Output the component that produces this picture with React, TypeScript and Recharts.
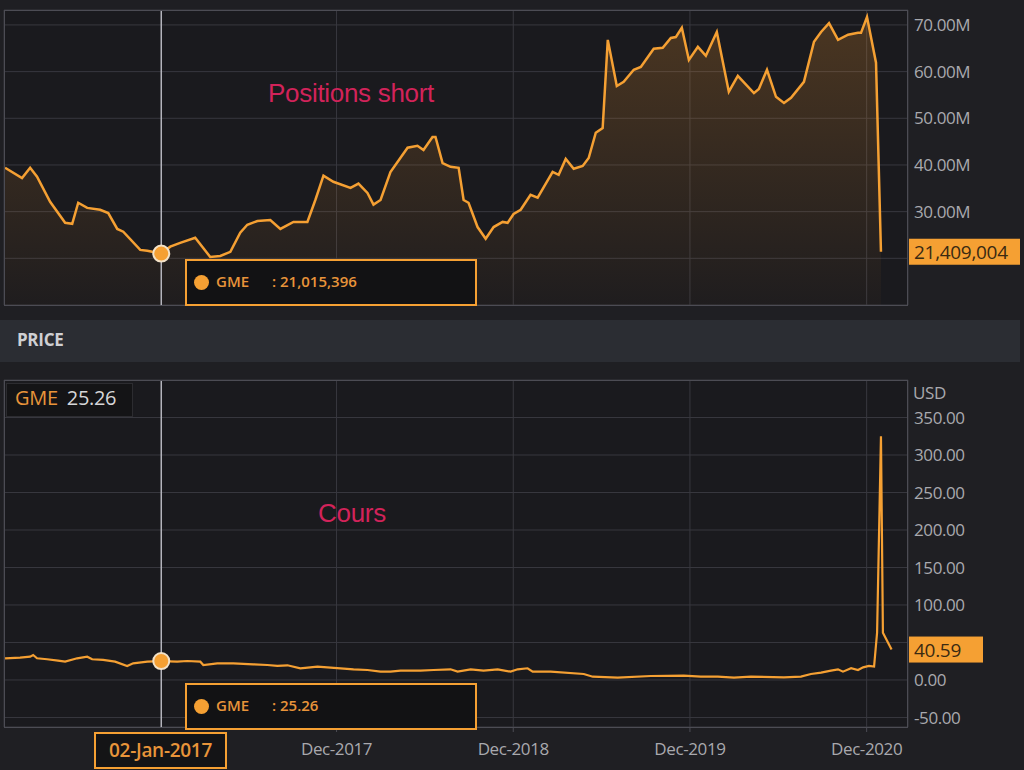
import React from 'react';
import {
  ComposedChart, Area, Line, XAxis, YAxis, CartesianGrid, ReferenceLine, ReferenceDot,
} from 'recharts';

// Dates as decimal years
const shortDates = [
  2016.119, 2016.215, 2016.261, 2016.300, 2016.374, 2016.459, 2016.499, 2016.533, 2016.584, 2016.657,
  2016.703, 2016.754, 2016.788, 2016.884, 2016.924, 2017.003, 2017.054, 2017.110, 2017.195, 2017.280,
  2017.337, 2017.394, 2017.450, 2017.490, 2017.547, 2017.620, 2017.677, 2017.751, 2017.830, 2017.875,
  2017.921, 2017.977, 2018.074, 2018.119, 2018.170, 2018.204, 2018.244, 2018.300, 2018.397, 2018.453,
  2018.487, 2018.538, 2018.555, 2018.595, 2018.640, 2018.686, 2018.714, 2018.742, 2018.793, 2018.839,
  2018.884, 2018.935, 2018.963, 2018.997, 2019.037, 2019.093, 2019.133, 2019.218, 2019.252, 2019.292,
  2019.337, 2019.388, 2019.422, 2019.462, 2019.501, 2019.530, 2019.581, 2019.620, 2019.677, 2019.717,
  2019.790, 2019.841, 2019.887, 2019.915, 2019.949, 2019.989, 2020.040, 2020.085, 2020.147, 2020.215,
  2020.266, 2020.357, 2020.385, 2020.431, 2020.482, 2020.527, 2020.567, 2020.640, 2020.697, 2020.737,
  2020.782, 2020.833, 2020.890, 2020.946, 2020.963, 2020.997, 2021.048, 2021.076,
];
// short positions, millions of shares
const shortValues = [
  39.4, 37.2, 39.4, 37.5, 32.1, 27.6, 27.4, 31.9, 30.8, 30.4,
  29.7, 26.3, 25.7, 21.8, 21.6, 21.015, 22.5, 23.3, 24.4, 20.3,
  20.5, 21.4, 25.5, 27.2, 28.0, 28.2, 26.3, 27.8, 27.8, 32.5,
  37.7, 36.4, 35.1, 36.0, 34.0, 31.5, 32.5, 38.5, 43.7, 44.1,
  43.2, 46.0, 46.0, 40.4, 39.6, 39.4, 32.5, 31.9, 26.7, 24.2,
  26.7, 27.8, 27.6, 29.5, 30.4, 33.6, 33.0, 38.5, 37.9, 41.3,
  39.2, 39.8, 41.5, 46.9, 47.9, 66.8, 56.9, 57.8, 60.4, 61.0,
  64.9, 65.1, 67.2, 67.4, 69.4, 62.5, 65.3, 63.4, 68.5, 55.7,
  59.1, 55.4, 56.3, 60.4, 54.6, 53.3, 54.4, 57.8, 66.4, 68.5,
  70.4, 66.8, 67.9, 68.3, 68.3, 71.7, 61.9, 21.409,
];

const priceDates = [
  2016.119, 2016.204, 2016.261, 2016.278, 2016.300, 2016.357, 2016.419, 2016.459, 2016.527, 2016.584,
  2016.612, 2016.674, 2016.742, 2016.810, 2016.844, 2016.924, 2017.003, 2017.093, 2017.150, 2017.224,
  2017.241, 2017.320, 2017.411, 2017.524, 2017.603, 2017.660, 2017.717, 2017.790, 2017.887, 2017.943,
  2018.017, 2018.091, 2018.170, 2018.244, 2018.300, 2018.357, 2018.470, 2018.544, 2018.640, 2018.680,
  2018.754, 2018.827, 2018.907, 2018.980, 2019.020, 2019.076, 2019.105, 2019.207, 2019.394, 2019.445,
  2019.586, 2019.773, 2019.960, 2020.057, 2020.153, 2020.244, 2020.340, 2020.527, 2020.623, 2020.680,
  2020.737, 2020.793, 2020.833, 2020.861, 2020.907, 2020.946, 2020.975, 2021.008, 2021.037, 2021.054,
  2021.076, 2021.087, 2021.136,
];
// GME close, USD
const priceValues = [
  28.9, 29.8, 31.1, 33.3, 28.9, 27.6, 25.8, 24.4, 28.9, 31.1,
  27.6, 26.7, 24.4, 18.7, 22.2, 24.4, 25.26, 24.4, 25.3, 24.4,
  20.0, 22.2, 22.2, 20.9, 20.0, 18.7, 19.6, 15.6, 17.8, 16.9,
  15.6, 14.2, 13.3, 11.1, 11.1, 12.4, 12.4, 13.3, 14.2, 11.1,
  14.2, 12.4, 14.2, 11.1, 14.2, 15.6, 11.1, 11.1, 8.0, 4.4,
  3.1, 5.3, 5.8, 4.4, 4.4, 3.1, 4.4, 3.6, 4.4, 8.0,
  9.8, 12.4, 14.2, 11.1, 15.6, 13.3, 16.9, 18.7, 17.8, 63,
  325, 63, 40.59,
];

const xTicks = [2017.995, 2018.995, 2019.995, 2020.995];
const xTickLabels = ['Dec-2017', 'Dec-2018', 'Dec-2019', 'Dec-2020'];
const shortTicks = [20, 30, 40, 50, 60, 70];
const priceTicks = [-50, 0, 50, 100, 150, 200, 250, 300, 350];

const hoverDate = 2017.003;
const hoverShort = 21.015396;
const hoverPrice = 25.26;
const lastShort = 21.409004;
const lastPrice = 40.59;

const shortData = shortDates.map((d, i) => ({ d, v: shortValues[i] }));
const priceData = priceDates.map((d, i) => ({ d, v: priceValues[i] }));

const ORANGE = '#f5a033';
const TXT_ORANGE = '#e8943a';
const GRID = '#38383f';
const BORDER = '#4c4c54';
const PLOT_BG = '#1a1a1e';
const AXIS_TXT = '#a9a9ae';
const X_DOMAIN = [2016.113, 2021.229];
const FONT = '"Open Sans", sans-serif';

const tickStyle = { fill: AXIS_TXT, fontSize: 17, fontFamily: FONT, letterSpacing: -0.4 };

const LastBox = ({ viewBox, text, w }: any) => {
  if (!viewBox) return null;
  const x = viewBox.x + viewBox.width + 1;
  const y = viewBox.y;
  return (
    <g>
      <rect x={x} y={y - 13} width={w} height={26} fill={ORANGE} />
      <text x={x + 5} y={y + 7} fill="#3a2a12" fontSize={19} fontFamily={FONT} letterSpacing={-0.3}>
        {text}
      </text>
    </g>
  );
};

const Hover = ({ top, value }: { top: number; value: string }) => (
  <div style={{
    position: 'absolute', left: 185, top, width: 292, height: 47, boxSizing: 'border-box',
    border: `2px solid ${ORANGE}`, background: '#121214', color: TXT_ORANGE,
    fontFamily: FONT, fontSize: 15, fontWeight: 600,
  }}>
    <div style={{ position: 'absolute', left: 7, top: 14, width: 15, height: 15, borderRadius: 8, background: ORANGE }} />
    <div style={{ position: 'absolute', left: 29, top: 10 }}>GME</div>
    <div style={{ position: 'absolute', left: 85, top: 10 }}>: {value}</div>
  </div>
);

const frame = (top: number, height: number): React.CSSProperties => ({
  position: 'absolute', left: 4, top, width: 904, height, boxSizing: 'border-box',
  border: `1px solid ${BORDER}`, pointerEvents: 'none',
});

const noteStyle = (left: number, top: number): React.CSSProperties => ({
  position: 'absolute', left, top, color: '#d2235a', fontSize: 26,
  fontFamily: '"Liberation Sans", Arial, sans-serif', letterSpacing: -0.3,
});

const App = () => (
  <div style={{
    position: 'absolute', left: 0, top: 0, width: 1024, height: 770, overflow: 'hidden',
    background: '#1f1f23', fontFamily: FONT,
  }}>
    {/* short positions */}
    <div style={{ position: 'absolute', left: 0, top: 0 }}>
      <ComposedChart width={1024} height={310} data={shortData} margin={{ top: 10, right: 0, left: 4, bottom: 0 }}>
        <defs>
          <linearGradient id="shortFill" x1="0" y1="0" x2="0" y2="1">
            <stop offset="0%" stopColor="#f0952c" stopOpacity={0.38} />
            <stop offset="100%" stopColor="#f0952c" stopOpacity={0.04} />
          </linearGradient>
        </defs>
        <CartesianGrid stroke={GRID} fill={PLOT_BG} />
        <XAxis dataKey="d" type="number" domain={X_DOMAIN} allowDataOverflow ticks={xTicks}
          tickFormatter={() => ''} tickLine={false} axisLine={false} height={5} />
        <YAxis orientation="right" width={116} domain={[10, 73.2]} ticks={shortTicks} allowDataOverflow
          tickFormatter={(v: number) => (v === 20 ? '' : `${v.toFixed(2)}M`)}
          tick={tickStyle} tickLine={false} axisLine={false} tickSize={0} tickMargin={6} />
        <Area dataKey="v" type="linear" stroke={ORANGE} strokeWidth={2.5} fill="url(#shortFill)"
          isAnimationActive={false} dot={false} activeDot={false} />
        <ReferenceLine x={hoverDate} stroke="#b4b4bc" strokeWidth={1.5} />
        <ReferenceDot x={hoverDate} y={hoverShort} r={8} fill={ORANGE} stroke="#f3e2c8" strokeWidth={2} />
        <ReferenceLine y={lastShort} stroke="none"
          label={(p: any) => <LastBox viewBox={p.viewBox} text="21,409,004" w={111} />} />
      </ComposedChart>
    </div>
    <div style={frame(10, 296)} />
    <div style={noteStyle(268, 78)}>Positions short</div>
    <Hover top={259} value="21,015,396" />

    {/* price band */}
    <div style={{
      position: 'absolute', left: 0, top: 320, width: 1020, height: 42, background: '#2b2d33',
    }}>
      <div style={{ position: 'absolute', left: 17, top: 8, color: '#cfd0d3', fontSize: 17, fontWeight: 700, letterSpacing: -0.3 }}>PRICE</div>
    </div>

    {/* price */}
    <div style={{ position: 'absolute', left: 0, top: 370 }}>
      <ComposedChart width={1024} height={400} data={priceData} margin={{ top: 10, right: 0, left: 4, bottom: 0 }}>
        <CartesianGrid stroke={GRID} fill={PLOT_BG} />
        <XAxis dataKey="d" type="number" domain={X_DOMAIN} allowDataOverflow ticks={xTicks}
          tickFormatter={(v: number) => xTickLabels[xTicks.indexOf(v)] ?? ''}
          tick={tickStyle} tickLine={{ stroke: BORDER }} axisLine={false}
          tickSize={5} tickMargin={11} height={43} />
        <YAxis orientation="right" width={116} domain={[-62.7, 400]} ticks={priceTicks} allowDataOverflow
          tickFormatter={(v: number) => (v === 50 ? '' : v.toFixed(2))}
          tick={tickStyle} tickLine={false} axisLine={false} tickSize={0} tickMargin={6} />
        <Line dataKey="v" type="linear" stroke={ORANGE} strokeWidth={2.2} dot={false} activeDot={false}
          isAnimationActive={false} />
        <ReferenceLine x={hoverDate} stroke="#b4b4bc" strokeWidth={1.5} />
        <ReferenceDot x={hoverDate} y={hoverPrice} r={8} fill={ORANGE} stroke="#f3e2c8" strokeWidth={2} />
        <ReferenceLine y={lastPrice} stroke="none"
          label={(p: any) => <LastBox viewBox={p.viewBox} text="40.59" w={74} />} />
      </ComposedChart>
    </div>
    <div style={frame(380, 348)} />
    <div style={{ position: 'absolute', left: 913, top: 381, color: AXIS_TXT, fontSize: 17, letterSpacing: -0.4 }}>USD</div>
    <div style={noteStyle(318, 498)}>Cours</div>
    <div style={{
      position: 'absolute', left: 6, top: 383, width: 127, height: 34, boxSizing: 'border-box',
      background: '#141416', border: '1px solid #2c2c30', fontSize: 20, paddingLeft: 8, paddingTop: 0,
      letterSpacing: -0.3,
    }}>
      <span style={{ color: TXT_ORANGE }}>GME</span>
      <span style={{ color: '#d6d6d8', marginLeft: 9 }}>25.26</span>
    </div>
    <Hover top={683} value="25.26" />
    <div style={{
      position: 'absolute', left: 94, top: 732, width: 133, height: 37, boxSizing: 'border-box',
      border: `2px solid ${ORANGE}`, background: '#141416', color: TXT_ORANGE, fontSize: 19, fontWeight: 600,
      textAlign: 'center', lineHeight: '32px', letterSpacing: -0.3,
    }}>02-Jan-2017</div>
  </div>
);

export default App;
